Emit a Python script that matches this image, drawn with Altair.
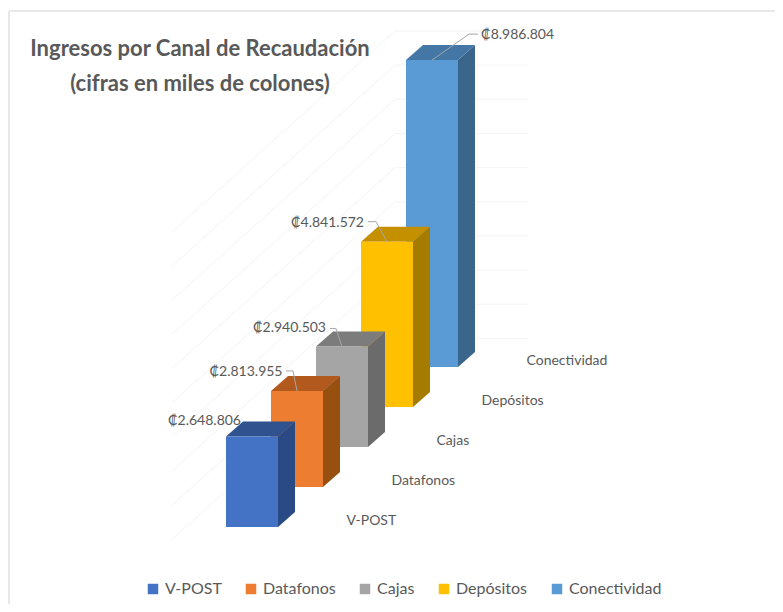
import altair as alt
import pandas as pd

# ---- data ----
categories = ["V-POST", "Datafonos", "Cajas", "Depósitos", "Conectividad"]
values = [2648806, 2813955, 2940503, 4841572, 8986804]
front_colors = ["#4472C4", "#ED7D31", "#A5A5A5", "#FFC000", "#5B9BD5"]
side_colors = ["#2A4A85", "#97500F", "#6B6B6B", "#A67C00", "#3A668C"]
top_colors = ["#30528F", "#B25A1E", "#7C7C7C", "#C49000", "#4477A6"]
title_lines = ["Ingresos por Canal de Recaudación", "(cifras en miles de colones)"]
grid_levels = list(range(1, 11))

# ---- projection of the 3-D look, in pixels ----
W, H = 767, 596
PX_X = 45.0            # horizontal shift per category
PX_Y = 34.15 / 1e6     # pixels per colón (thousands unit as read)
STEP_Y = 40.0          # upward shift per category
BAR_W = 52.0
DEPTH_X, DEPTH_Y = 17.0, 15.0
ORIGIN_X, ORIGIN_Y = 218.0, 519.0   # front-left foot of first bar inside the plot


def ux(px):
    return px / PX_X


def uy(px):
    return px / PX_Y


x_scale = alt.Scale(domain=[ux(-ORIGIN_X), ux(W - ORIGIN_X)], nice=False, zero=False)
y_scale = alt.Scale(domain=[uy(-(H - ORIGIN_Y)), uy(ORIGIN_Y)], nice=False, zero=False)
color_scale = alt.Scale(domain=categories, range=front_colors)


def X(f):
    return alt.X(f, type="quantitative", scale=x_scale, axis=None)


def Y(f):
    return alt.Y(f, type="quantitative", scale=y_scale, axis=None)


layers = []

# frame
frame_color = "#E8E8E8"
layers.append(alt.Chart(pd.DataFrame({"a": [0]})).mark_rule(color=frame_color, strokeWidth=2).encode(
    x=alt.value(1), y=alt.value(3), y2=alt.value(H)))
layers.append(alt.Chart(pd.DataFrame({"a": [0]})).mark_rule(color=frame_color, strokeWidth=2).encode(
    x=alt.value(1), x2=alt.value(W), y=alt.value(3)))

# gridlines on the side wall and the back wall
BACK_X, BACK_Y = ux(395 - 8 - ORIGIN_X), uy(ORIGIN_Y - (372.5 - 8))
grid_rows = []
for k in grid_levels:
    lvl = k * 1e6
    grid_rows += [
        {"k": k, "o": 0, "x": BACK_X - ux(223), "y": BACK_Y + lvl - uy(201)},
        {"k": k, "o": 1, "x": BACK_X, "y": BACK_Y + lvl},
        {"k": k, "o": 2, "x": BACK_X + ux(133), "y": BACK_Y + lvl},
    ]
layers.append(alt.Chart(pd.DataFrame(grid_rows)).mark_line(color="#F4F4F4", strokeWidth=1).encode(
    x=X("x"), y=Y("y"), detail="k:N", order="o:Q"))

# bars, back to front
for i in reversed(range(len(categories))):
    x0 = i
    x1 = i + ux(BAR_W)
    dx = ux(DEPTH_X)
    dy = uy(DEPTH_Y)
    base = i * uy(STEP_Y)
    top = base + values[i]
    side = pd.DataFrame({"x": [x1, x1 + dx], "y": [base, base + dy], "y2": [top, top + dy]})
    cap = pd.DataFrame({
        "x": [x0, x0 + dx, x1, x1 + dx],
        "y": [top, top, top, top + dy],
        "y2": [top, top + dy, top + dy, top + dy],
    })
    face = pd.DataFrame({"cat": [categories[i]], "x": [x0], "x2": [x1], "y": [base], "y2": [top]})
    layers.append(alt.Chart(side).mark_area(color=side_colors[i], orient="vertical").encode(
        x=X("x"), y=Y("y"), y2="y2"))
    layers.append(alt.Chart(cap).mark_area(color=top_colors[i], orient="vertical").encode(
        x=X("x"), y=Y("y"), y2="y2"))
    layers.append(alt.Chart(face).mark_rect().encode(
        x=X("x"), x2="x2", y=Y("y"), y2="y2",
        color=alt.Color("cat:N", scale=color_scale, legend=alt.Legend(
            title=None, orient="none", legendX=137, legendY=573, direction="horizontal",
            columns=5, columnPadding=21, symbolType="square", symbolSize=110,
            symbolStrokeWidth=0, labelFont="Lato", labelFontSize=16, labelColor="#595959",
            labelOffset=4, gridAlign="each"))))

# data labels with leader lines (offsets from the top-centre of each front face, pixels)
label_offsets = [(-11, -16), (-14.5, -19), (-16, -19), (-23, -19), (49, -25)]
label_sides = ["right", "right", "right", "right", "left"]
leader_offsets = [None, (-4, -20, -11, -20), (-6, -18, -12, -18), (-11, -20, -19, -20), (37, -26, 46, -26)]

label_rows, leader_rows = [], []
for i, (c, v) in enumerate(zip(categories, values)):
    cx = i + ux(BAR_W / 2)
    ty = i * uy(STEP_Y) + v
    lx, ly = label_offsets[i]
    label_rows.append({
        "x": cx + ux(lx), "y": ty - uy(ly),
        "t": "₡" + f"{v:,}".replace(",", "."), "side": label_sides[i],
    })
    if leader_offsets[i]:
        a, b, e, f = leader_offsets[i]
        leader_rows += [
            {"c": c, "o": 0, "x": cx, "y": ty},
            {"c": c, "o": 1, "x": cx + ux(a), "y": ty - uy(b)},
            {"c": c, "o": 2, "x": cx + ux(e), "y": ty - uy(f)},
        ]
labels = pd.DataFrame(label_rows)

layers.append(alt.Chart(pd.DataFrame(leader_rows)).mark_line(color="#A6A6A6", strokeWidth=1).encode(
    x=X("x"), y=Y("y"), detail="c:N", order="o:Q"))

# category labels on the floor
cat_rows = [{"x": i + ux(120.5), "y": i * uy(STEP_Y) + uy(6), "t": c} for i, c in enumerate(categories)]
layers.append(alt.Chart(pd.DataFrame(cat_rows)).mark_text(
    align="left", baseline="middle", font="Lato", fontSize=14, color="#595959").encode(
    x=X("x"), y=Y("y"), text="t:N"))

for side in ["right", "left"]:
    layers.append(alt.Chart(labels[labels.side == side]).mark_text(
        align=side, baseline="middle", font="Lato", fontSize=14, color="#595959").encode(
        x=X("x"), y=Y("y"), text="t:N"))

chart = alt.layer(*layers).properties(
    width=W, height=H, padding=0,
    autosize=alt.AutoSizeParams(type="none"),
    background="white",
    title=alt.TitleParams(
        text=title_lines, anchor="start", frame="group", align="center", baseline="top",
        dx=192, dy=92, font="Lato", fontSize=22, fontWeight="bold", color="#595959", lineHeight=35,
    ),
).configure_view(stroke=None)

chart.save("out.html", embed_options={"renderer": "svg", "actions": False})
